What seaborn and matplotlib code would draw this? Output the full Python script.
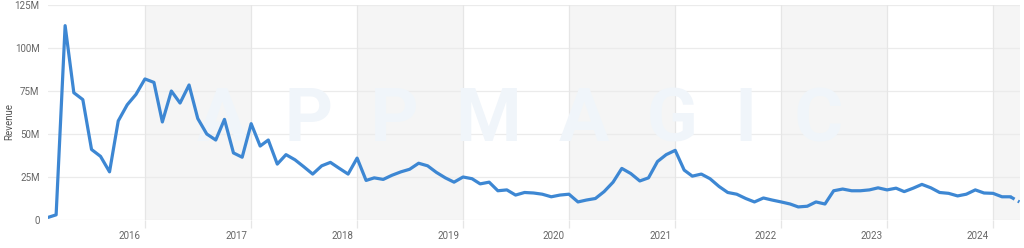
import matplotlib
matplotlib.use("Agg")
import matplotlib.pyplot as plt
import matplotlib.transforms as mtrans
import seaborn as sns
import pandas as pd

# Monthly revenue, in millions (Feb 2015 .. Apr 2024)
rev_2015 = [1.5, 3, 113, 74, 70, 41, 37, 28, 57.6, 67, 73]
rev_2016 = [82, 80, 57, 75, 68, 78.5, 59, 50, 46.5, 58.5, 39, 36.5]
rev_2017 = [56, 43, 46.5, 32.5, 38, 35, 31, 26.7, 31.5, 33.5, 30, 26.7]
rev_2018 = [36, 23, 24.5, 23.6, 26, 28, 29.5, 33, 31.5, 27.7, 24.5, 22]
rev_2019 = [25, 24, 21, 22, 17, 17.5, 14.5, 16, 15.7, 15, 13.5, 14.5]
rev_2020 = [15, 10.5, 11.6, 12.5, 16.5, 22, 30, 27, 22.7, 24.5, 34, 38]
rev_2021 = [40.5, 29, 25.5, 26.7, 24, 19.5, 16, 15, 12.5, 10.5, 12.8, 11.6]
rev_2022 = [10.5, 9.3, 7.6, 8, 10.5, 9.3, 17, 18, 17, 17, 17.5, 18.7]
rev_2023 = [17.5, 18.5, 16.5, 18.5, 20.7, 18.7, 16, 15.5, 14, 15, 17.5, 15.7]
rev_2024 = [15.5, 13.5, 13.5, 10.5]

revenue_m = (rev_2015 + rev_2016 + rev_2017 + rev_2018 + rev_2019 +
             rev_2020 + rev_2021 + rev_2022 + rev_2023 + rev_2024)
months = pd.date_range("2015-02-01", periods=len(revenue_m), freq="MS")
y_ticks = [0, 25, 50, 75, 100, 125]
y_tick_labels = ["0", "25M", "50M", "75M", "100M", "125M"]
years = list(range(2016, 2025))
shaded_years = [2016, 2018, 2020, 2022, 2024]
watermark = "A  P  P  M  A  G  I  C"

df = pd.DataFrame({"month": months, "revenue": revenue_m})
df_solid = df.iloc[:-1]
df_dash = df.iloc[-2:]

sns.set_theme(style="white")
plt.rcParams["font.family"] = ["Roboto", "DejaVu Sans"]

fig = plt.figure(figsize=(10.24, 2.48), dpi=100)
ax = fig.add_axes([48 / 1024, 28 / 248, (1020 - 48) / 1024, 215 / 248])

xmin = months[0]
xmax = months[-1] + pd.Timedelta(days=2)
for yr in shaded_years:
    ax.axvspan(pd.Timestamp(f"{yr}-01-01"), min(pd.Timestamp(f"{yr + 1}-01-01"), xmax),
               color="#f5f5f5", zorder=0, lw=0)

for yt in y_ticks:
    ax.axhline(yt, color="#ebebeb", lw=0.9, zorder=1)
for yr in years:
    ax.axvline(pd.Timestamp(f"{yr}-01-01"), color="#e6e6e6", lw=0.9, zorder=1)

# watermark
ax.text(0.486, 0.46, watermark, transform=ax.transAxes, ha="center", va="center",
        fontsize=54, fontweight="bold", color="#f0f5fa", zorder=1)

sns.lineplot(data=df_solid, x="month", y="revenue", ax=ax, color="#3d87d3", lw=2.3, zorder=3)
sns.lineplot(data=df_dash, x="month", y="revenue", ax=ax, color="#3d87d3", lw=2.3,
             linestyle=(0, (1.5, 1.2)), zorder=3)

ax.set_xlim(xmin, xmax)
ax.set_ylim(0, 125)
ax.set_yticks(y_ticks)
ax.set_yticklabels(y_tick_labels)
ax.set_xticks([pd.Timestamp(f"{yr}-01-01") for yr in years])
ax.set_xticklabels([str(yr) for yr in years])

for s in ax.spines.values():
    s.set_visible(False)

ax.tick_params(axis="y", length=0, pad=6, labelsize=7, labelcolor="#666666")
ax.tick_params(axis="x", length=6, width=0.9, color="#e6e6e6", pad=2,
               labelsize=7, labelcolor="#666666", bottom=True)
offset = mtrans.ScaledTranslation(-4 / 100, 0, fig.dpi_scale_trans)
for lbl in ax.get_xticklabels():
    lbl.set_horizontalalignment("right")
    lbl.set_transform(lbl.get_transform() + offset)

ax.set_xlabel("")
ax.set_ylabel("Revenue", fontsize=7, color="#555555")
ax.yaxis.set_label_coords((14 - 48) / 972, 0.46)
ax.grid(False)

fig.savefig("out.png", dpi=100)
